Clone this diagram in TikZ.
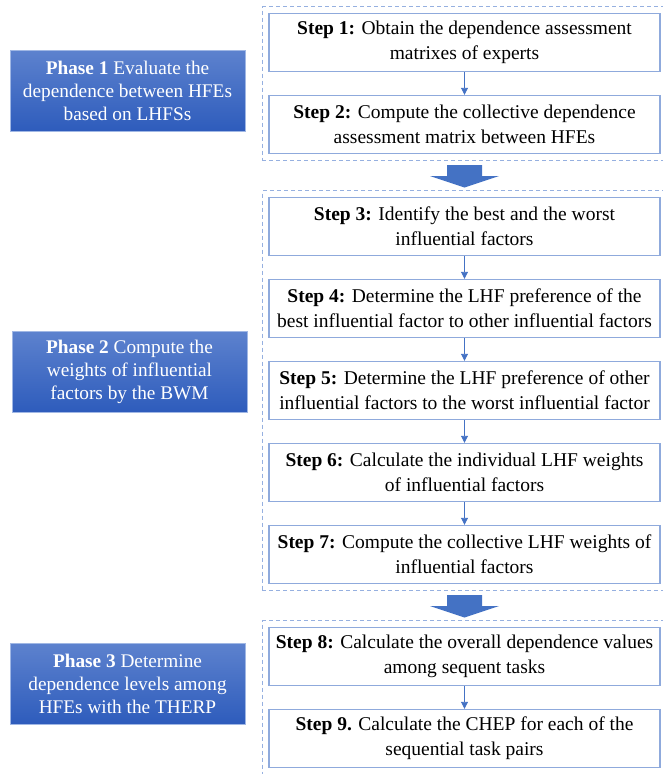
\documentclass[tikz,border=0pt]{standalone}
\usepackage{fontspec}
\setmainfont{Liberation Serif}
\usetikzlibrary{arrows.meta,fit,positioning}
\definecolor{stepline}{RGB}{143,170,220}
\definecolor{grpline}{RGB}{150,176,224}
\definecolor{flowblue}{RGB}{68,114,196}
\definecolor{phasetop}{RGB}{93,130,206}
\definecolor{phasebot}{RGB}{46,92,188}
\definecolor{phaseedge}{RGB}{160,183,228}

\begin{document}
\begin{tikzpicture}[x=1pt, y=-1pt,
  stepbox/.style={draw=stepline, line width=1.4pt, minimum width=391pt, minimum height=58pt,
    align=center, inner sep=2pt, font=\fontsize{19.5}{25}\selectfont},
  phasebox/.style={draw=phaseedge, line width=0.6pt, top color=phasetop, bottom color=phasebot,
    text=white, minimum width=235pt, minimum height=81pt, align=center, inner sep=2pt,
    font=\fontsize{19.3}{23}\selectfont},
  grpbox/.style={draw=grpline, dash pattern=on 4pt off 3pt, line width=1.1pt, inner sep=6pt},
  flow/.style={draw=flowblue, line width=0.9pt, -{Triangle[length=7pt,width=7pt]}}]
\useasboundingbox (0,0) rectangle (662,774);

% steps of phase 1
\node[stepbox](step1) at (464.5,42.5){\textbf{Step 1:} Obtain the dependence assessment\\matrixes of experts};
\node[stepbox, below of=step1, node distance=82pt](step2){\textbf{Step 2:} Compute the collective dependence\\assessment matrix between HFEs};

% steps of phase 2
\node[stepbox, below of=step2, node distance=102pt](step3){\textbf{Step 3:} Identify the best and the worst\\influential factors};
\node[stepbox, below of=step3, node distance=82pt](step4){\textbf{Step 4:} Determine the LHF preference of the\\best influential factor to other influential factors};
\node[stepbox, below of=step4, node distance=82pt](step5){\textbf{Step 5:} Determine the LHF preference of other\\influential factors to the worst influential factor};
\node[stepbox, below of=step5, node distance=82pt](step6){\textbf{Step 6:} Calculate the individual LHF weights\\of influential factors};
\node[stepbox, below of=step6, node distance=82pt](step7){\textbf{Step 7:} Compute the collective LHF weights of\\influential factors};

% steps of phase 3
\node[stepbox, below of=step7, node distance=102pt](step8){\textbf{Step 8:} Calculate the overall dependence values\\among sequent tasks};
\node[stepbox, below of=step8, node distance=82pt](step9){\textbf{Step 9.} Calculate the CHEP for each of the\\sequential task pairs};

\draw[flow] (step1) -- (step2);
\draw[flow] (step3) -- (step4);
\draw[flow] (step4) -- (step5);
\draw[flow] (step5) -- (step6);
\draw[flow] (step6) -- (step7);
\draw[flow] (step8) -- (step9);

% dashed groups
\node[grpbox, fit=(step1)(step2)](grp1){};
\node[grpbox, fit=(step3)(step7)](grp2){};
\node[grpbox, fit=(step8)(step9)](grp3){};

% block arrows between groups
\path (step2.south) -- coordinate[pos=0.5](gap1) (step3.north);
\path (step7.south) -- coordinate[pos=0.5](gap2) (step8.north);
\foreach \g in {gap1,gap2}
  \fill[flowblue] (\g) ++(-17.5,-10.5) -- ++(35,0) -- ++(0,11) -- ++(17,0) -- ++(-34.5,11.5)
    -- ++(-34.5,-11.5) -- ++(17,0) -- cycle;

% phases
\node[phasebox](phase1) at (127.5,90.5){\textbf{Phase 1} Evaluate the\\dependence between HFEs\\based on LHFSs};
\node[phasebox](phase2) at (129.5,371.5){\textbf{Phase 2} Compute the\\weights of influential\\factors by the BWM};
\node[phasebox](phase3) at (127.5,683.5){\textbf{Phase 3} Determine\\dependence levels among\\HFEs with the THERP};
\end{tikzpicture}
\end{document}
